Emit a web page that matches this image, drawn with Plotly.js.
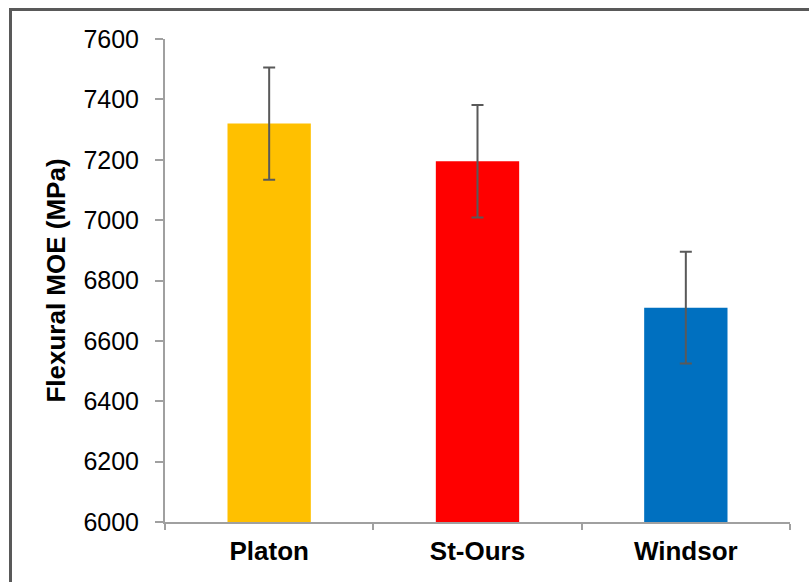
<!DOCTYPE html>
<html>
<head>
<meta charset="utf-8">
<script src="https://cdn.plot.ly/plotly-3.0.1.min.js"></script>
<style>
  html, body { margin: 0; padding: 0; background: #fff; overflow: hidden; }
  #chart { width: 809px; height: 582px; position: relative; }
  #frame { position: absolute; left: 9px; top: 8px; width: 900px; height: 700px;
           border: 3px solid #595959; pointer-events: none; }
</style>
</head>
<body>
<div id="chart"></div>
<div id="frame"></div>
<script>
const categories = ["Platon", "St-Ours", "Windsor"];
const moe = [7320, 7195, 6710];
const moeErr = [186, 186, 185];
const barColors = ["#FFC000", "#FF0000", "#0070C0"];
const yTicks = [6000, 6200, 6400, 6600, 6800, 7000, 7200, 7400, 7600];

const trace = {
  type: "bar",
  x: categories,
  y: moe,
  marker: { color: barColors },
  error_y: { type: "data", array: moeErr, visible: true, color: "#595959", thickness: 2, width: 6 },
  hoverinfo: "none"
};

const layout = {
  width: 809, height: 582,
  margin: { l: 165, r: 19, t: 39, b: 60 },
  paper_bgcolor: "#ffffff",
  plot_bgcolor: "#ffffff",
  showlegend: false,
  bargap: 0.6,
  font: { family: "Liberation Sans, Arial, sans-serif", color: "#000" },
  xaxis: {
    type: "category",
    showline: true, linecolor: "#a0a0a0", linewidth: 2,
    ticks: "outside", tickson: "boundaries", ticklen: 6, tickcolor: "#a0a0a0", tickwidth: 2,
    tickfont: { size: 26, family: "Liberation Sans, Arial, sans-serif", weight: "bold" },
    ticklabelstandoff: 5,
    showgrid: false, zeroline: false
  },
  yaxis: {
    range: [6000, 7600],
    tickvals: yTicks,
    ticktext: yTicks.map(String),
    showline: true, linecolor: "#a0a0a0", linewidth: 2,
    ticks: "outside", ticklen: 8, tickcolor: "#a0a0a0", tickwidth: 2,
    tickfont: { size: 25 },
    ticklabelstandoff: 11,
    showgrid: false, zeroline: false,
    title: { text: "Flexural MOE (MPa)", font: { size: 26, weight: "bold" }, standoff: 10 }
  }
};

Plotly.newPlot("chart", [trace], layout, { displayModeBar: false, staticPlot: true });
</script>
</body>
</html>
